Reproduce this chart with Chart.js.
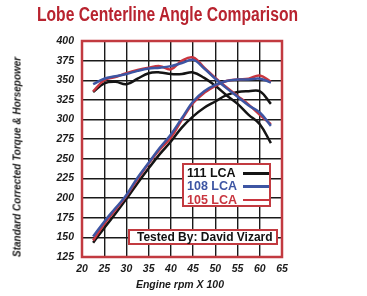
<!DOCTYPE html>
<html>
<head>
<meta charset="utf-8">
<script src="https://cdn.jsdelivr.net/npm/chart.js@4"></script>
<style>
  body { margin: 0; background: #fff; }
  #wrap { position: relative; width: 367px; height: 296px; overflow: hidden; font-family: 'Liberation Sans', Arial, sans-serif; }
  #chart { position: absolute; left: 0; top: 0; }
  .title { position: absolute; left: 37px; top: 3px; white-space: nowrap; font-family: 'Liberation Sans Narrow', 'Liberation Sans', sans-serif; font-weight: bold; font-size: 20px; color: #b8232f; transform-origin: 0 0; }
  .ytitle { position: absolute; left: 17px; top: 157px; white-space: nowrap; font-weight: bold; font-style: italic; font-size: 10px; color: #1a1a1a; transform: translate(-50%, -50%) rotate(-90deg); }
  .xtitle { position: absolute; left: 180px; top: 284px; white-space: nowrap; font-weight: bold; font-style: italic; font-size: 10.5px; color: #1a1a1a; transform: translate(-50%, -50%); }
  .legend { position: absolute; left: 182px; top: 163px; width: 89px; height: 44px; box-sizing: border-box; border: 2px solid #c23a40; background: #fff; }
  .legend__row { position: absolute; left: 3px; height: 13px; line-height: 13px; font-weight: bold; font-size: 12.5px; white-space: nowrap; }
  .legend__line { position: absolute; left: 56px; top: 5px; width: 26px; height: 2.5px; }
  .tested { position: absolute; left: 128px; top: 229px; width: 150px; height: 16px; box-sizing: border-box; border: 2px solid #c23a40; background: #fff; font-weight: bold; font-size: 12px; line-height: 12px; padding-left: 7px; white-space: nowrap; color: #111; }
</style>
</head>
<body>
<div id="wrap">
  <canvas id="chart" width="367" height="296"></canvas>
  <div class="title" id="title">Lobe Centerline Angle Comparison</div>
  <div class="ytitle">Standard Corrected Torque &amp; Horsepower</div>
  <div class="xtitle">Engine rpm X 100</div>
  <div class="legend" id="legend"></div>
  <div class="tested">Tested By: David Vizard</div>
</div>
<script>
const rpm = [22.5, 25, 27.5, 30, 32.5, 35, 37.5, 40, 42.5, 45, 47.5, 50, 52.5, 55, 57.5, 60, 62.5];

// torque curves (upper set)
const torque111 = [335, 346, 348, 345, 352, 359, 360, 358, 358, 360, 353, 343, 331, 320, 306, 294, 270];
const torque108 = [345, 352, 355, 358, 362, 365, 366, 368, 372, 376, 365, 352, 340, 329, 318, 309, 292];
const torque105 = [336, 350, 354, 359, 363, 366, 368, 364, 375, 379, 366, 353, 341, 330, 319, 306, 294];

// horsepower curves (lower set)
const hp111 = [143, 162, 180, 199, 219, 238, 256, 272, 290, 304, 315, 323, 331, 335, 336, 336, 320];
const hp108 = [151, 170, 187, 204, 226, 245, 264, 281, 302, 323, 336, 344, 349, 351, 351, 352, 347];
const hp105 = [146, 167, 185, 203, 224, 244, 262, 277, 300, 321, 334, 343, 349, 351, 352, 356, 348];

const seriesNames = ['111 LCA', '108 LCA', '105 LCA'];
const seriesColors = ['#141414', '#3d55a3', '#c9353f'];

const borderRed = '#c23a40';
const tickFont = { family: 'Liberation Sans', size: 10.5, style: 'italic', weight: 'bold' };

function points(values) {
    return values.map((y, i) => ({ x: rpm[i], y }));
}

function line(values, color) {
    return {
        data: points(values),
        borderColor: color,
        borderWidth: 2.5,
        pointRadius: 0,
        tension: 0.4,
        fill: false,
    };
}

// red frame round the plot area, over the grid
const frame = {
    id: 'frame',
    beforeDatasetsDraw(chart) {
        const { ctx, chartArea: a } = chart;
        ctx.save();
        ctx.strokeStyle = borderRed;
        ctx.lineWidth = 2.5;
        ctx.strokeRect(a.left, a.top, a.right - a.left, a.bottom - a.top);
        ctx.restore();
    },
};

function buildLegend() {
    const rows = seriesNames.map((name, i) => `
      <div class="legend__row" style="top:${2 + i * 13.3}px;color:${i === 0 ? '#111' : seriesColors[i]}">
        ${name}<span class="legend__line" style="background:${seriesColors[i]}"></span>
      </div>`).join('');
    document.querySelector('#legend').innerHTML = rows;
}

function fitTitle() {
    const el = document.querySelector('#title');
    const w = el.getBoundingClientRect().width;
    el.style.transform = `scaleX(${261 / w})`;
}

buildLegend();
fitTitle();

new Chart(document.querySelector('#chart'), {
    type: 'line',
    data: {
        datasets: [
            line(torque108, seriesColors[1]),
            line(hp108, seriesColors[1]),
            line(torque105, seriesColors[2]),
            line(hp105, seriesColors[2]),
            line(torque111, seriesColors[0]),
            line(hp111, seriesColors[0]),
        ],
    },
    options: {
        responsive: false,
        animation: false,
        layout: { padding: { top: 41, right: 85, left: 0, bottom: 0 } },
        plugins: { legend: { display: false }, tooltip: { enabled: false } },
        scales: {
            x: {
                type: 'linear',
                min: 20,
                max: 65,
                afterFit: (scale) => { scale.height = 39; },
                ticks: { stepSize: 5, color: '#1a1a1a', font: tickFont, padding: 6, maxRotation: 0 },
                grid: { color: '#1a1a1a', lineWidth: 1.4, drawTicks: false },
                border: { display: false },
            },
            y: {
                min: 125,
                max: 400,
                afterFit: (scale) => { scale.width = 82; },
                ticks: { stepSize: 25, color: '#1a1a1a', font: tickFont, padding: 8 },
                grid: { color: '#1a1a1a', lineWidth: 1.4, drawTicks: false },
                border: { display: false },
            },
        },
    },
    plugins: [frame],
});
</script>
</body>
</html>
